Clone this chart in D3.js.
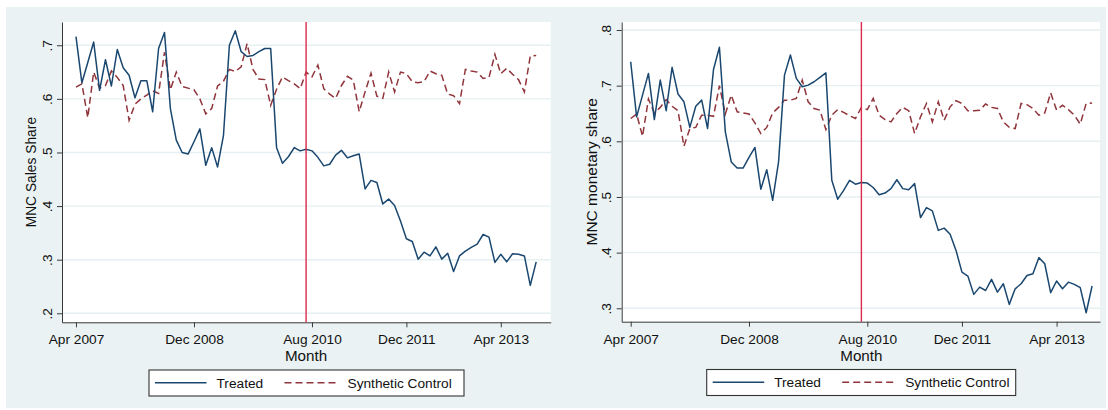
<!DOCTYPE html>
<html>
<head>
<meta charset="utf-8">
<script src="https://cdn.jsdelivr.net/npm/d3@7"></script>
<style>
  html, body { margin: 0; padding: 0; background: #ffffff; }
  svg { display: block; }
  text { font-family: "Liberation Sans", Arial, sans-serif; fill: #111; }
</style>
</head>
<body>
<svg id="chart" width="1108" height="410"></svg>
<script>
// Monthly observations, Apr 2007 – Oct 2013
const months = d3.timeMonth.range(new Date(2007, 3, 1), new Date(2013, 10, 1));
const monthLabel = d3.timeFormat("%b %Y");

const xTickLabels = ["Apr 2007", "Dec 2008", "Aug 2010", "Dec 2011", "Apr 2013"];
const treatmentMonth = "Jul 2010";
const seriesNames = ["Treated", "Synthetic Control"];

const salesTreated = [
  0.716, 0.630, 0.668, 0.706, 0.616, 0.673, 0.624, 0.692, 0.658, 0.644,
  0.602, 0.634, 0.634, 0.576, 0.694, 0.724, 0.582, 0.523, 0.500, 0.497,
  0.520, 0.544, 0.476, 0.509, 0.473, 0.532, 0.700, 0.727, 0.688, 0.679,
  0.681, 0.688, 0.694, 0.694, 0.509, 0.480, 0.492, 0.509, 0.503, 0.506,
  0.503, 0.491, 0.475, 0.478, 0.495, 0.504, 0.490, 0.494, 0.497, 0.432,
  0.448, 0.444, 0.404, 0.413, 0.401, 0.372, 0.339, 0.334, 0.301, 0.314,
  0.307, 0.324, 0.301, 0.312, 0.278, 0.307, 0.316, 0.323, 0.329, 0.347,
  0.342, 0.295, 0.310, 0.296, 0.311, 0.310, 0.307, 0.252, 0.296
];
const salesSynthetic = [
  0.622, 0.628, 0.565, 0.650, 0.620, 0.625, 0.652, 0.640, 0.625, 0.560,
  0.590, 0.600, 0.607, 0.615, 0.610, 0.687, 0.617, 0.650, 0.623, 0.620,
  0.617, 0.600, 0.572, 0.582, 0.624, 0.633, 0.655, 0.651, 0.660, 0.703,
  0.655, 0.637, 0.636, 0.588, 0.618, 0.641, 0.634, 0.628, 0.619, 0.650,
  0.641, 0.663, 0.619, 0.609, 0.601, 0.625, 0.642, 0.635, 0.576, 0.613,
  0.648, 0.605, 0.601, 0.650, 0.613, 0.650, 0.647, 0.632, 0.630, 0.632,
  0.652, 0.647, 0.644, 0.609, 0.606, 0.591, 0.655, 0.652, 0.650, 0.638,
  0.640, 0.683, 0.647, 0.657, 0.646, 0.636, 0.613, 0.680, 0.681
];
const monetaryTreated = [
  0.743, 0.644, 0.683, 0.722, 0.639, 0.710, 0.655, 0.733, 0.685, 0.671,
  0.625, 0.663, 0.674, 0.623, 0.729, 0.769, 0.617, 0.563, 0.552, 0.552,
  0.571, 0.589, 0.514, 0.549, 0.494, 0.563, 0.719, 0.755, 0.713, 0.698,
  0.701, 0.707, 0.715, 0.723, 0.530, 0.496, 0.512, 0.530, 0.523, 0.526,
  0.525, 0.517, 0.504, 0.507, 0.515, 0.531, 0.515, 0.513, 0.524, 0.463,
  0.481, 0.475, 0.440, 0.444, 0.433, 0.404, 0.365, 0.358, 0.325, 0.338,
  0.332, 0.352, 0.329, 0.344, 0.307, 0.335, 0.344, 0.359, 0.362, 0.391,
  0.380, 0.328, 0.349, 0.335, 0.347, 0.343, 0.337, 0.292, 0.340
];
const monetarySynthetic = [
  0.641, 0.649, 0.609, 0.676, 0.651, 0.661, 0.675, 0.663, 0.655, 0.591,
  0.623, 0.625, 0.647, 0.647, 0.645, 0.700, 0.649, 0.683, 0.653, 0.651,
  0.649, 0.633, 0.614, 0.625, 0.651, 0.661, 0.674, 0.674, 0.677, 0.710,
  0.671, 0.659, 0.656, 0.621, 0.647, 0.657, 0.652, 0.646, 0.641, 0.661,
  0.657, 0.677, 0.647, 0.639, 0.635, 0.650, 0.661, 0.655, 0.614, 0.644,
  0.668, 0.635, 0.671, 0.638, 0.662, 0.673, 0.668, 0.655, 0.655, 0.656,
  0.667, 0.661, 0.659, 0.635, 0.625, 0.623, 0.668, 0.666, 0.659, 0.647,
  0.651, 0.687, 0.656, 0.665, 0.657, 0.647, 0.631, 0.668, 0.669
];

const salesTicks = [0.2, 0.3, 0.4, 0.5, 0.6, 0.7];
const monetaryTicks = [0.3, 0.4, 0.5, 0.6, 0.7, 0.8];

// Colours (Stata s2color look)
const COLORS = {
  graphBg: "#eaf2f3",
  plotBg: "#ffffff",
  grid: "#e6eff1",
  axis: "#3a3a3a",
  treated: "#1a476f",
  synthetic: "#90353b",
  event: "#dc2a4c"
};

const labels = months.map(monthLabel);
const monthIndex = lbl => labels.indexOf(lbl);

const panels = [
  {
    treated: salesTreated, synthetic: salesSynthetic, ticks: salesTicks,
    yTitle: "MNC Sales Share", yTitleSize: 13.8, yTitleX: 36,
    box: { left: 62, right: 550.7, top: 22, bottom: 322.3 },
    xDomain: [-2.37, 80.46], yDomain: [0.1832, 0.7434],
    legend: { x: 149, y: 370, w: 315, h: 26 }
  },
  {
    treated: monetaryTreated, synthetic: monetarySynthetic, ticks: monetaryTicks,
    yTitle: "MNC monetary share", yTitleSize: 15.5, yTitleX: 597,
    box: { left: 621.7, right: 1100, top: 22, bottom: 321.7 },
    xDomain: [-1.52, 79.34], yDomain: [0.2759, 0.8144],
    legend: { x: 706.7, y: 369.5, w: 309, h: 26 }
  }
];

const svg = d3.select("#chart");

// Graph region background
svg.append("rect")
  .attr("x", 6).attr("y", 7).attr("width", 1100).attr("height", 401)
  .attr("fill", COLORS.graphBg);

const fmtTick = d => d3.format(".1f")(d).replace(/^0/, "");

panels.forEach(p => {
  const b = p.box;
  const x = d3.scaleLinear().domain(p.xDomain).range([b.left, b.right]);
  const y = d3.scaleLinear().domain(p.yDomain).range([b.bottom, b.top]);

  const g = svg.append("g");

  // Plot region
  g.append("rect")
    .attr("x", b.left).attr("y", b.top)
    .attr("width", b.right - b.left).attr("height", b.bottom - b.top)
    .attr("fill", COLORS.plotBg);

  // Horizontal grid lines
  g.append("g")
    .selectAll("line")
    .data(p.ticks)
    .join("line")
    .attr("x1", b.left).attr("x2", b.right)
    .attr("y1", d => y(d)).attr("y2", d => y(d))
    .attr("stroke", COLORS.grid)
    .attr("stroke-width", 1.4);

  // Y axis
  const yAxis = g.append("g")
    .attr("transform", `translate(${b.left},0)`)
    .call(d3.axisLeft(y).tickValues(p.ticks).tickFormat(fmtTick).tickSize(5).tickSizeOuter(0));
  yAxis.select(".domain").attr("stroke", COLORS.axis);
  yAxis.selectAll(".tick line").attr("stroke", COLORS.axis);
  yAxis.selectAll(".tick text")
    .attr("x", null).attr("dy", null)
    .attr("text-anchor", "middle")
    .attr("transform", "translate(-10.3,0) rotate(-90)")
    .style("font-family", "'Liberation Sans', Arial, sans-serif")
    .style("font-size", "13.7px")
    .attr("fill", "#111");

  // X axis
  const xAxis = g.append("g")
    .attr("transform", `translate(0,${b.bottom})`)
    .call(d3.axisBottom(x)
      .tickValues(xTickLabels.map(monthIndex))
      .tickFormat(i => labels[i])
      .tickSize(5).tickSizeOuter(0));
  xAxis.select(".domain").attr("stroke", COLORS.axis);
  xAxis.selectAll(".tick line").attr("stroke", COLORS.axis);
  xAxis.selectAll(".tick text")
    .attr("y", 22).attr("dy", null)
    .style("font-family", "'Liberation Sans', Arial, sans-serif")
    .style("font-size", "13.7px")
    .attr("fill", "#111");

  // Axis titles
  g.append("text")
    .attr("transform", `translate(${p.yTitleX},${(b.top + b.bottom) / 2}) rotate(-90)`)
    .attr("text-anchor", "middle")
    .style("font-size", p.yTitleSize + "px")
    .text(p.yTitle);

  g.append("text")
    .attr("x", x(monthIndex(treatmentMonth)))
    .attr("y", 361.3)
    .attr("text-anchor", "middle")
    .style("font-size", "15.2px")
    .text("Month");

  // Series lines
  const line = d3.line()
    .x((d, i) => x(i))
    .y(d => y(d));

  g.append("path")
    .datum(p.synthetic)
    .attr("d", line)
    .attr("fill", "none")
    .attr("stroke", COLORS.synthetic)
    .attr("stroke-width", 1.5)
    .attr("stroke-dasharray", "7,4");

  g.append("path")
    .datum(p.treated)
    .attr("d", line)
    .attr("fill", "none")
    .attr("stroke", COLORS.treated)
    .attr("stroke-width", 1.5)
    .attr("stroke-linejoin", "round");

  // Treatment date marker
  const xe = x(monthIndex(treatmentMonth));
  g.append("line")
    .attr("x1", xe).attr("x2", xe)
    .attr("y1", b.top).attr("y2", b.bottom)
    .attr("stroke", COLORS.event)
    .attr("stroke-width", 1.4);

  // Legend
  const L = p.legend;
  const lg = g.append("g").attr("transform", `translate(${L.x},${L.y})`);
  lg.append("rect")
    .attr("width", L.w).attr("height", L.h)
    .attr("fill", "#ffffff")
    .attr("stroke", "#333")
    .attr("stroke-width", 1.1);
  const items = [
    { name: seriesNames[0], color: COLORS.treated, dash: null, x0: 6, x1: 57.5, tx: 67.5 },
    { name: seriesNames[1], color: COLORS.synthetic, dash: "7,4", x0: 135.5, x1: 190, tx: 198.5 }
  ];
  items.forEach(it => {
    lg.append("line")
      .attr("x1", it.x0).attr("x2", it.x1)
      .attr("y1", 12.8).attr("y2", 12.8)
      .attr("stroke", it.color)
      .attr("stroke-width", 1.5)
      .attr("stroke-dasharray", it.dash);
    lg.append("text")
      .attr("x", it.tx).attr("y", 17.7)
      .style("font-size", "13.7px")
      .text(it.name);
  });
});
</script>
</body>
</html>
